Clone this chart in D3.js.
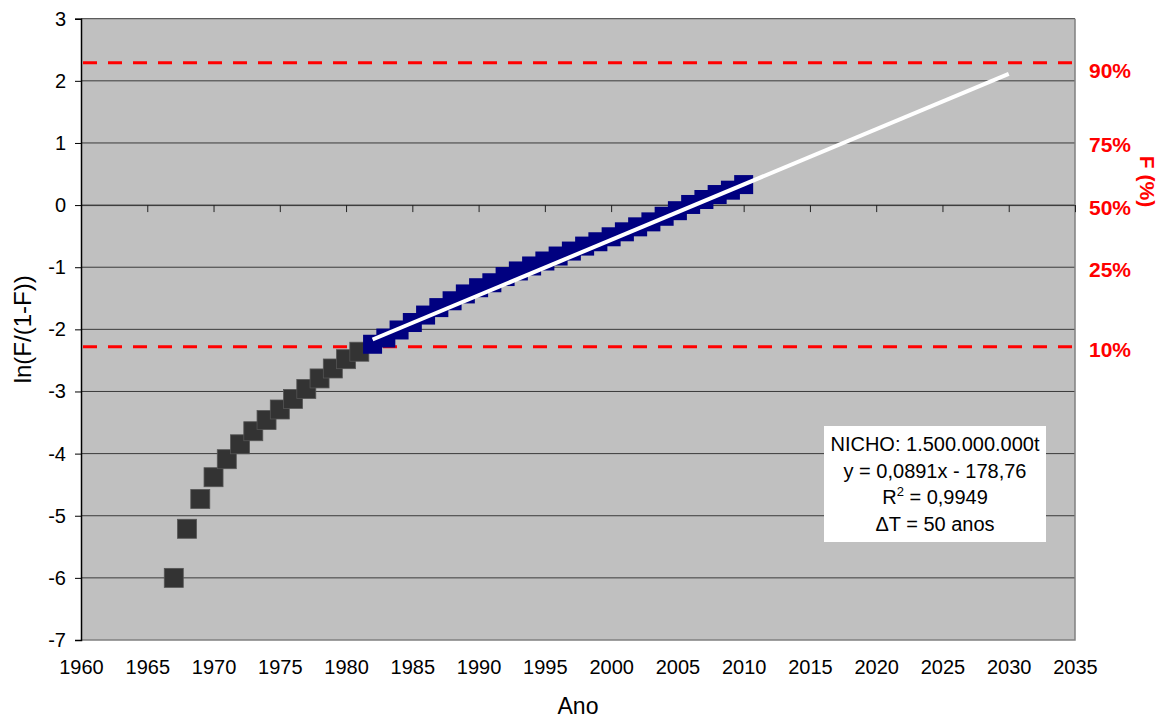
<!DOCTYPE html>
<html>
<head>
<meta charset="utf-8">
<script src="https://cdn.jsdelivr.net/npm/d3@7"></script>
<style>
  body { margin: 0; background: #fff; }
  text { font-family: "Liberation Sans", Arial, sans-serif; }
</style>
</head>
<body>
<svg class="mainSvg"></svg>
<script>
(function () {

  // ===========================================================================
  //     data area
  // ===========================================================================
  const yearsEarly = [1967, 1968, 1969, 1970, 1971, 1972, 1973, 1974, 1975, 1976, 1977, 1978, 1979, 1980, 1981];
  const valuesEarly = [-6.00, -5.21, -4.73, -4.38, -4.09, -3.85, -3.64, -3.46, -3.29, -3.12, -2.96, -2.79, -2.63, -2.48, -2.36];

  const yearsFit = [1982, 1983, 1984, 1985, 1986, 1987, 1988, 1989, 1990, 1991,
    1992, 1993, 1994, 1995, 1996, 1997, 1998, 1999, 2000,
    2001, 2002, 2003, 2004, 2005, 2006, 2007, 2008, 2009, 2010];
  const valuesFit = [-2.24, -2.14, -2.01, -1.89, -1.77, -1.65, -1.54, -1.43, -1.33, -1.25,
    -1.15, -1.06, -0.98, -0.90, -0.82, -0.74, -0.66, -0.59, -0.51,
    -0.43, -0.35, -0.27, -0.18, -0.09, 0.01, 0.09, 0.17, 0.24, 0.33];

  // trend line y = a*x + b, drawn over this year span
  const trendSlope = 0.0891;
  const trendIntercept = -178.76;
  const trendYears = [1982, 2030];

  // red dashed limits (10% and 90%) in ln(F/(1-F)) units
  const limitValues = [2.29, -2.28];

  // right-hand F(%) labels and where they sit on the left scale
  const rightLabels = ['90%', '75%', '50%', '25%', '10%'];
  const rightLabelValues = [2.17, 0.98, -0.03, -1.03, -2.32];

  const xTicks = [1960, 1965, 1970, 1975, 1980, 1985, 1990, 1995, 2000, 2005, 2010, 2015, 2020, 2025, 2030, 2035];
  const yTicks = [3, 2, 1, 0, -1, -2, -3, -4, -5, -6, -7];

  const boxLines = ['NICHO: 1.500.000.000t', 'y = 0,0891x - 178,76', 'R2', '\u0394T = 50 anos'];

  // ===========================================================================
  //      layout
  // ===========================================================================
  const initWidth = 1166;
  const initHeight = 720;
  const plot = { left: 81, right: 1075, top: 18.7, bottom: 640 };
  const markerSize = 19;

  const svg = d3.select('.mainSvg')
    .attr('width', initWidth)
    .attr('height', initHeight);

  const x = d3.scaleLinear().domain([1960, 2035]).range([plot.left, plot.right]);
  const y = d3.scaleLinear().domain([-7, 3]).range([plot.bottom, plot.top]);

  // plot background
  svg.append('rect')
    .attr('x', plot.left).attr('y', plot.top)
    .attr('width', plot.right - plot.left).attr('height', plot.bottom - plot.top)
    .attr('fill', '#c0c0c0');

  // gridlines
  svg.append('g')
    .selectAll('line')
    .data(yTicks.filter(d => d > -7))
    .enter()
    .append('line')
    .attr('x1', plot.left).attr('x2', plot.right)
    .attr('y1', d => y(d)).attr('y2', d => y(d))
    .attr('stroke', '#3a3a3a')
    .attr('stroke-width', 1);

  // right & bottom border
  svg.append('path')
    .attr('d', `M${plot.right} ${plot.top} V${plot.bottom} H${plot.left}`)
    .attr('fill', 'none')
    .attr('stroke', '#808080')
    .attr('stroke-width', 1.5);

  // x axis crossing at y = 0 (ticks only)
  const xAxisZero = svg.append('g')
    .attr('transform', `translate(0,${y(0)})`)
    .call(d3.axisBottom(x).tickValues(xTicks).tickSize(7).tickFormat(''));
  xAxisZero.select('.domain').attr('stroke', '#3a3a3a');
  xAxisZero.selectAll('.tick line').attr('stroke', '#222');

  // x tick labels at the bottom
  const xAxisLabels = svg.append('g')
    .attr('transform', `translate(0,${plot.bottom})`)
    .call(d3.axisBottom(x).tickValues(xTicks).tickSize(0).tickPadding(20).tickFormat(d => String(d)));
  xAxisLabels.select('.domain').remove();
  xAxisLabels.selectAll('text')
    .attr('font-size', 20)
    .attr('font-family', '"Liberation Sans", Arial, sans-serif')
    .attr('fill', '#000');

  // left y axis (plain hyphen for negatives)
  const yAxis = svg.append('g')
    .attr('transform', `translate(${plot.left},0)`)
    .call(d3.axisLeft(y).tickValues(yTicks).tickSize(6).tickPadding(9).tickFormat(d => String(d)));
  yAxis.select('.domain').attr('stroke', '#000').attr('stroke-width', 1.5);
  yAxis.selectAll('.tick line').attr('stroke', '#000');
  yAxis.selectAll('text')
    .attr('font-size', 20)
    .attr('font-family', '"Liberation Sans", Arial, sans-serif')
    .attr('fill', '#000');

  // red dashed limits
  svg.append('g')
    .selectAll('line')
    .data(limitValues)
    .enter()
    .append('line')
    .attr('x1', x(1960) + 2).attr('x2', x(2035) + 2)
    .attr('y1', d => y(d)).attr('y2', d => y(d))
    .attr('stroke', '#ff0000')
    .attr('stroke-width', 3)
    .attr('stroke-dasharray', '14,11');

  // early points (dark grey)
  svg.append('g')
    .selectAll('rect')
    .data(yearsEarly.map((yr, i) => ({ yr, v: valuesEarly[i] })))
    .enter()
    .append('rect')
    .attr('x', d => x(d.yr) - markerSize / 2)
    .attr('y', d => y(d.v) - markerSize / 2)
    .attr('width', markerSize)
    .attr('height', markerSize)
    .attr('fill', '#333333')
    .attr('stroke', '#555')
    .attr('stroke-width', 0.8);

  // fitted points (navy)
  svg.append('g')
    .selectAll('rect')
    .data(yearsFit.map((yr, i) => ({ yr, v: valuesFit[i] })))
    .enter()
    .append('rect')
    .attr('x', d => x(d.yr) - markerSize / 2)
    .attr('y', d => y(d.v) - markerSize / 2)
    .attr('width', markerSize)
    .attr('height', markerSize)
    .attr('fill', '#000080');

  // trend line
  const trend = d3.line()
    .x(d => x(d))
    .y(d => y(trendSlope * d + trendIntercept));
  svg.append('path')
    .attr('d', trend(trendYears))
    .attr('stroke', '#fff')
    .attr('stroke-width', 4)
    .attr('fill', 'none');

  // right F(%) labels
  svg.append('g')
    .selectAll('text')
    .data(rightLabels)
    .enter()
    .append('text')
    .text(d => d)
    .attr('x', plot.right + 14)
    .attr('y', (d, i) => y(rightLabelValues[i]))
    .attr('dy', '0.36em')
    .attr('font-size', 21)
    .attr('font-weight', 'bold')
    .attr('fill', '#ff0000');

  svg.append('text')
    .text('F (%)')
    .attr('transform', `translate(1140,${y(0.38)}) rotate(90)`)
    .attr('text-anchor', 'middle')
    .attr('font-size', 21)
    .attr('font-weight', 'bold')
    .attr('fill', '#ff0000');

  // axis titles
  svg.append('text')
    .text('Ano')
    .attr('x', (plot.left + plot.right) / 2)
    .attr('y', 714)
    .attr('text-anchor', 'middle')
    .attr('font-size', 23)
    .attr('fill', '#000');

  svg.append('text')
    .text('ln(F/(1-F))')
    .attr('transform', `translate(31,${(plot.top + plot.bottom) / 2}) rotate(-90)`)
    .attr('text-anchor', 'middle')
    .attr('font-size', 24)
    .attr('fill', '#000');

  // equation box
  const box = { x: 824, y: 426, w: 222, h: 116, cx: 935, lineGap: 26.5 };
  svg.append('rect')
    .attr('x', box.x).attr('y', box.y)
    .attr('width', box.w).attr('height', box.h)
    .attr('fill', '#fff');

  const boxText = svg.append('g');
  boxLines.forEach(function (line, i) {
    const t = boxText.append('text')
      .attr('x', box.cx)
      .attr('y', box.y + 25 + i * box.lineGap)
      .attr('text-anchor', 'middle')
      .attr('font-size', 20)
      .attr('fill', '#000');
    if (line === 'R2') {
      t.append('tspan').text('R');
      t.append('tspan').text('2').attr('font-size', 13).attr('dy', -8);
      t.append('tspan').text(' = 0,9949').attr('dy', 8);
    } else {
      t.text(line);
    }
  });
})();
</script>
</body>
</html>
